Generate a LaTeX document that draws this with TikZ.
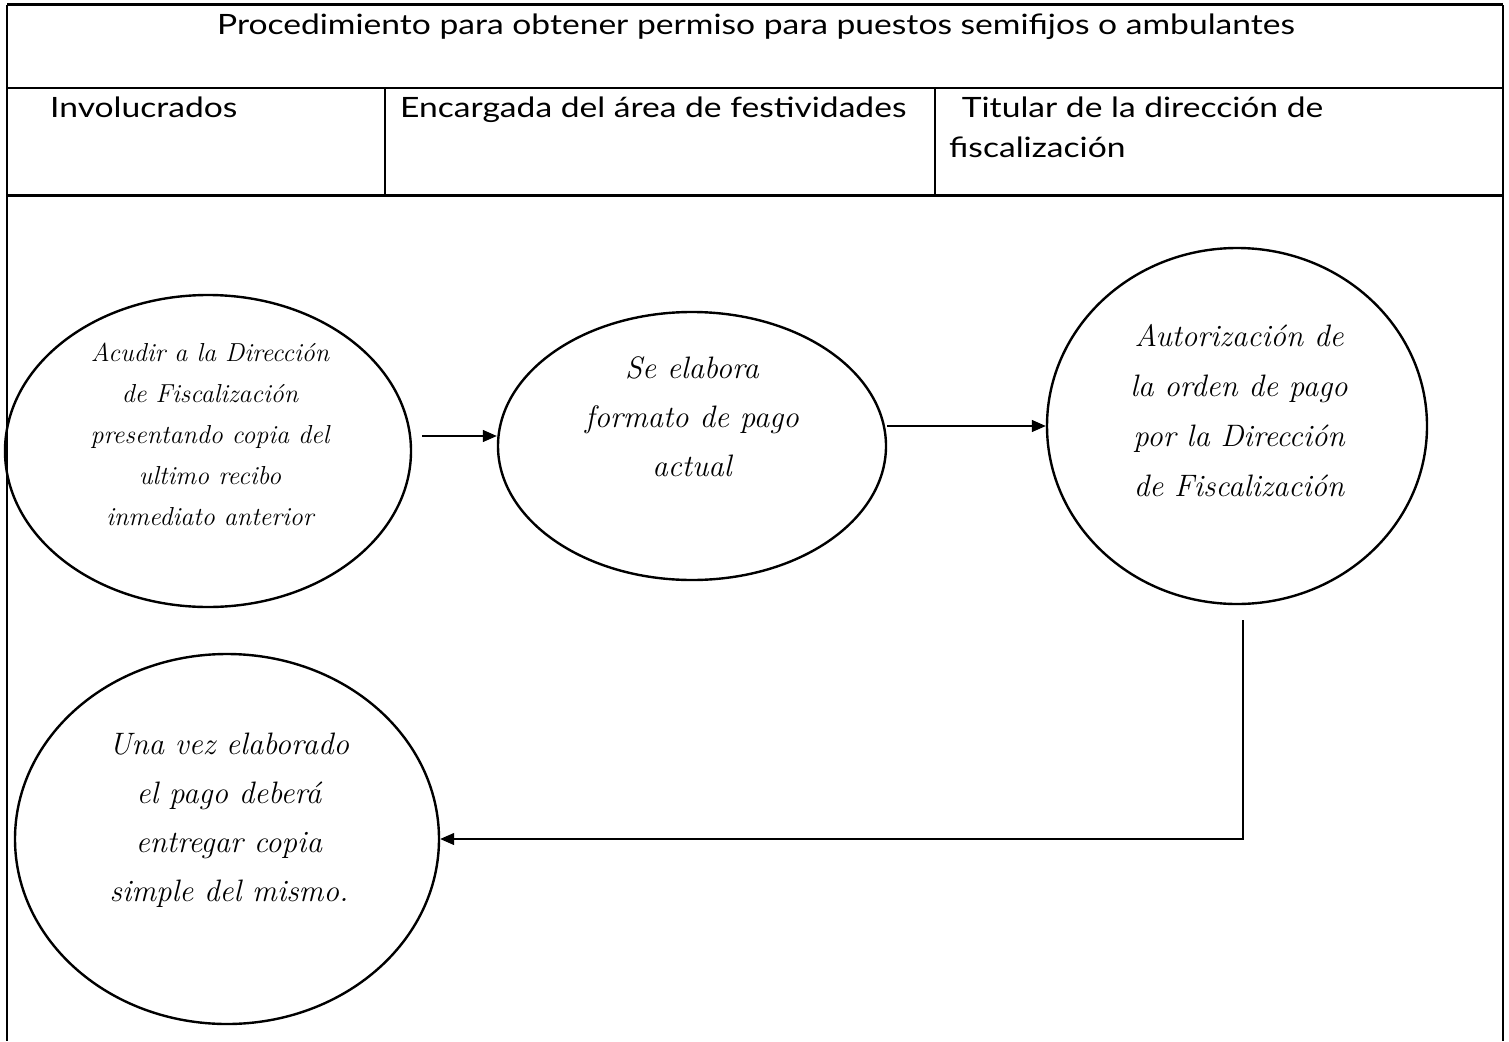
\documentclass[tikz,border=0pt]{standalone}
\usepackage{fontspec}
\usetikzlibrary{shapes.geometric,arrows.meta}
\newfontfamily\hdrfont[FakeStretch=1.2]{Lato}
\begin{document}
\begin{tikzpicture}[x=1pt,y=-1pt,
  ovalbox/.style={draw,ellipse,line width=2.4pt,inner sep=0pt},
  ovaltext/.style={inner sep=0pt,align=center},
  arr/.style={line width=1.3pt,-{Triangle[length=14pt,width=12pt]}},
  hdr/.style={anchor=base west,inner sep=0pt,font=\hdrfont\fontsize{28}{40}\selectfont}]
\useasboundingbox (0,0) rectangle (1509,1041);
% table
\draw[line width=3pt] (7,5) -- (1503,5);
\draw[line width=2pt] (7,5) -- (7,1041);
\draw[line width=2pt] (1503,5) -- (1503,1041);
\draw[line width=2pt] (7,88) -- (1503,88);
\draw[line width=3pt] (7,195) -- (1503,195);
\draw[line width=1.5pt] (385,88) -- (385,195);
\draw[line width=1.5pt] (935,88) -- (935,195);
\node[anchor=base,inner sep=0pt,font=\hdrfont\fontsize{28}{40}\selectfont] (title) at (756,35) {Procedimiento para obtener permiso para puestos semifijos o ambulantes};
\node[hdr] (h1) at (50,117) {Involucrados};
\node[hdr] (h2) at (400,117) {Encargada del área de festividades};
\node[hdr] (h3) at (957,117) {\,Titular de la dirección de};
\node[hdr] (h3b) at (949,157) {fiscalización};
% ellipses
\node[ovalbox,minimum width=406pt,minimum height=312pt] (e1) at (208,451) {};
\node[ovaltext,font=\itshape\fontsize{26}{41}\selectfont] (t1) at (210,434)
  {Acudir a la Dirección\\de Fiscalización\\presentando copia del\\ultimo recibo\\inmediato anterior};
\node[ovalbox,minimum width=388pt,minimum height=268pt] (e2) at (692,446) {};
\node[ovaltext,font=\itshape\fontsize{31}{49}\selectfont] (t2) at (692,417)
  {Se elabora\\formato de pago\\actual};
\node[ovalbox,minimum width=380pt,minimum height=356pt] (e3) at (1237,426) {};
\node[ovaltext,font=\itshape\fontsize{31}{50}\selectfont] (t3) at (1239,411)
  {Autorización de\\la orden de pago\\por la Dirección\\de Fiscalización};
\node[ovalbox,minimum width=424pt,minimum height=370pt] (e4) at (227,839) {};
\node[ovaltext,font=\itshape\fontsize{31}{49}\selectfont] (t4) at (229,820)
  {Una vez elaborado\\el pago deberá\\entregar copia\\simple del mismo.};
% connectors
\coordinate (a1) at (422,436);
\coordinate (a3) at (1243,620);
\draw[arr] (a1) -- (a1 -| e2.west);
\draw[arr] (e2.east |- e3.west) -- (e3.west);
\draw[arr] (a3) |- (e4.east);
\end{tikzpicture}
\end{document}
